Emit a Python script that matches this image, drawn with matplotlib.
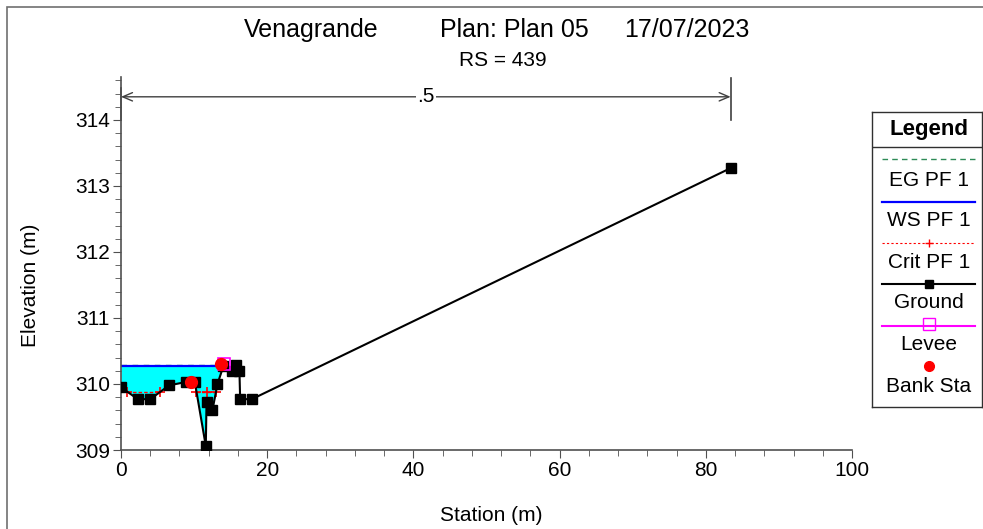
import matplotlib
matplotlib.use("Agg")
import matplotlib.pyplot as plt
from matplotlib.patches import Rectangle
from matplotlib.lines import Line2D
import numpy as np

plt.rcParams["font.family"] = ["Liberation Sans", "DejaVu Sans"]

# ── data ──
ground_sta = [0, 2.3, 4.0, 6.6, 8.9, 10.1, 11.6, 11.7, 12.5, 13.2, 14.0,
              15.2, 15.8, 16.2, 16.3, 17.9, 83.4]
ground_elev = [309.95, 309.77, 309.77, 309.98, 310.03, 310.03, 309.06, 309.72,
               309.60, 310.00, 310.27, 310.20, 310.28, 310.20, 309.77, 309.77, 313.27]
ws_sta = [0, 14.0]
ws_elev = 310.27
eg_elev = 310.28
crit_sta = [0.85, 5.3, np.nan, 10.2, 11.7, 13.0]
crit_elev = [309.88, 309.88, np.nan, 309.88, 309.88, 309.88]
bank_sta = [9.6, 13.7]
bank_elev = [310.035, 310.31]
levee_sta = [14.1]
levee_elev = [310.30]
n_value = ".5"
n_extent = [0, 83.4]

W, H = 983, 529
fig = plt.figure(figsize=(W / 100, H / 100), dpi=100)
ax = fig.add_axes([121 / W, 1 - 450 / H, (852 - 121) / W, (450 - 77) / H])

# water area
n_wet = 11
ax.fill_between(ground_sta[:n_wet], ground_elev[:n_wet], ws_elev,
                where=[e <= ws_elev for e in ground_elev[:n_wet]],
                color="#00FFFF", linewidth=0, interpolate=True, zorder=1)
ax.plot(ws_sta, [eg_elev] * 2, color="#2E8B57", linewidth=1.0, dashes=(4, 4), zorder=2)
ax.plot(ws_sta, [ws_elev] * 2, color="#0000FF", linewidth=1.6, zorder=2)
ax.plot(crit_sta, crit_elev, color="red", linewidth=1.0, dashes=(2.5, 1.5),
        marker="+", markersize=7, markeredgewidth=1.2, zorder=3)
ax.plot(ground_sta, ground_elev, color="black", linewidth=1.5, marker="s",
        markersize=7, zorder=4)
ax.plot(levee_sta, levee_elev, linestyle="none", marker="s", markersize=8,
        markerfacecolor="none", markeredgecolor="magenta", markeredgewidth=1.2, zorder=5)
ax.plot(bank_sta, bank_elev, linestyle="none", marker="o", markersize=8.5,
        color="red", zorder=6)

# n-value extent marker
y_arrow = 314.35
ax.plot([n_extent[1]] * 2, [314.0, 314.63], color="#404040", linewidth=1.2, clip_on=False)
ax.plot([n_extent[0]] * 2, [314.0, 314.48], color="#404040", linewidth=1.2, clip_on=False)
ax.annotate("", xy=(n_extent[0], y_arrow), xytext=(n_extent[1], y_arrow),
            arrowprops=dict(arrowstyle="<->,head_length=0.7,head_width=0.3",
                            color="#404040", linewidth=1.0, shrinkA=0, shrinkB=0))
ax.text(np.mean(n_extent), y_arrow, n_value, ha="center", va="center", fontsize=15,
        bbox=dict(facecolor="white", edgecolor="none", pad=1))

ax.set_xlim(0, 100)
ax.set_ylim(309, 314.65)
ax.set_xticks(np.arange(0, 101, 20))
ax.set_xticks(np.arange(0, 101, 4), minor=True)
ax.set_yticks(np.arange(309, 315, 1))
ax.set_yticks(np.arange(309, 314.65, 0.2), minor=True)
for side in ("top", "right"):
    ax.spines[side].set_visible(False)
for side in ("left", "bottom"):
    ax.spines[side].set_color("#505050")
    ax.spines[side].set_linewidth(1.2)
ax.tick_params(which="major", length=6, color="#505050", labelsize=15, pad=2)
ax.tick_params(which="minor", length=4, color="#505050")
ax.set_xlabel("Station (m)", fontsize=15)
ax.set_ylabel("Elevation (m)", fontsize=15)
ax.xaxis.set_label_coords(0.506, -0.150)
ax.yaxis.set_label_coords(-0.111, 0.442)

# title lines
fig.text(311 / W, 1 - 30 / H, "Venagrande", ha="center", va="center", fontsize=18)
fig.text(514 / W, 1 - 30 / H, "Plan: Plan 05", ha="center", va="center", fontsize=18)
fig.text(687 / W, 1 - 30 / H, "17/07/2023", ha="center", va="center", fontsize=18)
fig.text(503 / W, 1 - 60 / H, "RS = 439", ha="center", va="center", fontsize=15)

# outer frame
fig.add_artist(Rectangle((7 / W, -0.1), 1.2, 1 - 7 / H + 0.1, transform=fig.transFigure,
                         facecolor="none", edgecolor="#707070", linewidth=1.2))

# legend box (pixel coordinates)
lg = fig.add_axes([872 / W, 1 - 407 / H, 110 / W, (407 - 112) / H])
lg.set_xlim(872, 982)
lg.set_ylim(407, 112)
lg.set_xticks([])
lg.set_yticks([])
for s in lg.spines.values():
    s.set_color("#303030")
    s.set_linewidth(1.0)
lg.axhline(147, color="#303030", linewidth=1.0)
lg.text(929, 130, "Legend", ha="center", va="center", fontsize=16, fontweight="bold")
x0, x1, xm = 882, 975, 929
fs = 15
lg.add_line(Line2D([x0, x1], [159, 159], color="#2E8B57", linewidth=1.0, dashes=(4, 3)))
lg.text(xm, 180, "EG PF 1", ha="center", va="center", fontsize=fs)
lg.add_line(Line2D([x0, x1], [202, 202], color="#0000FF", linewidth=1.6))
lg.text(xm, 220, "WS PF 1", ha="center", va="center", fontsize=fs)
lg.add_line(Line2D([x0, x1], [243, 243], color="red", linewidth=0.8, dashes=(2, 2)))
lg.add_line(Line2D([xm], [243], color="red", marker="+", markersize=6))
lg.text(xm, 262, "Crit PF 1", ha="center", va="center", fontsize=fs)
lg.add_line(Line2D([x0, x1], [284, 284], color="black", linewidth=1.5))
lg.add_line(Line2D([xm], [284], color="black", marker="s", markersize=6))
lg.text(xm, 303, "Ground", ha="center", va="center", fontsize=fs)
lg.add_line(Line2D([x0, x1], [326, 326], color="magenta", linewidth=1.5))
lg.add_line(Line2D([xm], [324], marker="s", markersize=8, markerfacecolor="none",
                   markeredgecolor="magenta"))
lg.text(xm, 345, "Levee", ha="center", va="center", fontsize=fs)
lg.add_line(Line2D([xm], [366], color="red", marker="o", markersize=7, linestyle="none"))
lg.text(xm, 386, "Bank Sta", ha="center", va="center", fontsize=fs)

fig.savefig("out.png", dpi=100)
